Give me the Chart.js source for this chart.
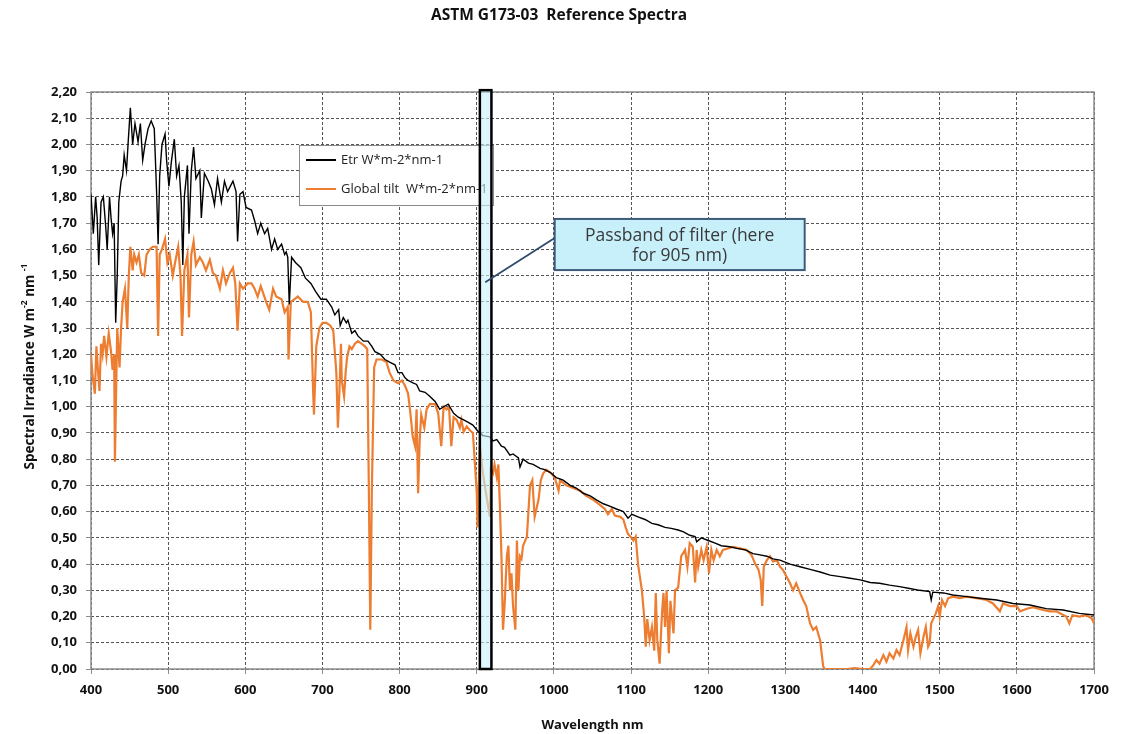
<!DOCTYPE html>
<html>
<head>
<meta charset="utf-8">
<title>ASTM G173-03 Reference Spectra</title>
<script src="https://cdn.jsdelivr.net/npm/chart.js@4.4.1/dist/chart.umd.min.js"></script>
<style>
  html, body { margin: 0; padding: 0; background: #fff; }
  #chart { display: block; }
</style>
</head>
<body>
<canvas id="chart" width="1128" height="734"></canvas>
<script>
'use strict';

const chartTitle = 'ASTM G173-03  Reference Spectra';
const xTitle = 'Wavelength nm';
const seriesLabels = ['Etr W*m-2*nm-1', 'Global tilt  W*m-2*nm-1'];
const calloutLines = ['Passband of filter (here', 'for 905 nm)'];

// extraterrestrial spectrum
const etrNm = [
  400, 403, 406, 408, 410, 413, 416, 419, 421, 424,
  426, 428, 430, 432, 434, 436, 439, 441, 443, 446,
  448, 451, 454, 457, 461, 464, 467, 470, 474, 478,
  482, 485, 487, 489, 492, 496, 498, 501, 504, 508,
  511, 514, 517, 519, 521, 525, 527, 530, 533, 536,
  541, 543, 547, 552, 556, 560, 564, 569, 573, 577,
  584, 588, 590, 593, 597, 601, 608, 612, 616, 620,
  625, 629, 634, 638, 642, 647, 651, 653, 655, 657,
  660, 665, 672, 678, 685, 691, 698, 705, 712, 716,
  721, 723, 727, 731, 733, 738, 742, 746, 753, 759,
  764, 768, 775, 781, 787, 794, 798, 803, 807, 811,
  818, 822, 826, 833, 839, 846, 852, 857, 863, 870,
  876, 883, 889, 895, 902, 908, 917, 921, 926, 932,
  936, 943, 947, 954, 956, 960, 967, 973, 982, 988,
  995, 1003, 1012, 1021, 1029, 1038, 1047, 1055, 1064, 1073,
  1081, 1090, 1096, 1101, 1109, 1118, 1127, 1135, 1144, 1152,
  1161, 1168, 1176, 1183, 1185, 1191, 1200, 1209, 1217, 1228,
  1237, 1248, 1258, 1267, 1276, 1284, 1293, 1306, 1319, 1332,
  1345, 1358, 1371, 1384, 1397, 1410, 1422, 1435, 1448, 1461,
  1474, 1487, 1489, 1491, 1505, 1517, 1535, 1552, 1574, 1595,
  1617, 1638, 1660, 1681, 1700
];
const etrVal = [
  1.81, 1.66, 1.80, 1.72, 1.54, 1.78, 1.80, 1.69, 1.60, 1.80,
  1.72, 1.66, 1.70, 1.32, 1.50, 1.78, 1.86, 1.88, 1.96, 1.90,
  2.00, 2.14, 2.00, 2.08, 2.01, 2.08, 1.94, 2.00, 2.06, 2.09,
  2.06, 1.82, 1.62, 1.88, 2.00, 2.04, 1.94, 1.84, 1.93, 2.02,
  1.88, 1.92, 1.78, 1.54, 1.80, 1.92, 1.66, 1.90, 1.99, 1.87,
  1.90, 1.72, 1.89, 1.86, 1.83, 1.77, 1.87, 1.78, 1.86, 1.82,
  1.86, 1.82, 1.63, 1.81, 1.82, 1.76, 1.75, 1.71, 1.66, 1.70,
  1.66, 1.68, 1.60, 1.64, 1.60, 1.62, 1.58, 1.59, 1.57, 1.39,
  1.57, 1.55, 1.53, 1.49, 1.47, 1.44, 1.41, 1.41, 1.38, 1.35,
  1.37, 1.31, 1.34, 1.32, 1.33, 1.28, 1.29, 1.27, 1.25, 1.25,
  1.23, 1.21, 1.20, 1.18, 1.17, 1.16, 1.13, 1.13, 1.11, 1.10,
  1.09, 1.085, 1.06, 1.055, 1.04, 1.02, 0.99, 1.00, 1.01, 0.975,
  0.96, 0.95, 0.94, 0.93, 0.905, 0.89, 0.885, 0.87, 0.875, 0.85,
  0.845, 0.815, 0.82, 0.805, 0.77, 0.80, 0.785, 0.78, 0.765, 0.76,
  0.75, 0.73, 0.72, 0.70, 0.69, 0.67, 0.66, 0.645, 0.63, 0.62,
  0.61, 0.60, 0.575, 0.59, 0.58, 0.57, 0.555, 0.55, 0.54, 0.536,
  0.53, 0.523, 0.51, 0.505, 0.485, 0.50, 0.49, 0.48, 0.47, 0.466,
  0.46, 0.454, 0.44, 0.435, 0.43, 0.42, 0.415, 0.40, 0.39, 0.38,
  0.37, 0.358, 0.352, 0.346, 0.34, 0.33, 0.327, 0.32, 0.314, 0.307,
  0.30, 0.295, 0.263, 0.293, 0.29, 0.282, 0.276, 0.27, 0.263, 0.25,
  0.244, 0.23, 0.225, 0.212, 0.206
];

// global tilt spectrum
const globalNm = [
  400, 402, 405, 407, 409, 411, 413, 415, 417, 420,
  423, 426, 428, 430, 431, 434, 437, 439, 441, 444,
  447, 449, 451, 454, 456, 459, 462, 465, 469, 472,
  476, 480, 485, 487, 489, 492, 496, 499, 502, 506,
  509, 513, 516, 518, 521, 525, 527, 530, 533, 536,
  541, 545, 549, 554, 558, 562, 567, 571, 575, 580,
  584, 587, 590, 593, 597, 603, 608, 612, 616, 620,
  627, 631, 636, 640, 647, 651, 655, 656, 659, 664,
  668, 675, 681, 685, 688, 689, 692, 696, 700, 705,
  710, 714, 718, 720, 722, 724, 725, 728, 730, 732,
  735, 738, 742, 746, 751, 755, 758, 760, 762, 764,
  767, 770, 777, 783, 787, 792, 798, 803, 807, 811,
  814, 817, 820, 822, 824, 826, 828, 832, 835, 839,
  846, 850, 854, 857, 861, 864, 867, 870, 874, 878,
  880, 883, 887, 891, 895, 897, 900, 901, 904, 908,
  912, 917, 918, 921, 923, 926, 928, 930, 932, 934,
  936, 939, 941, 943, 945, 947, 950, 952, 954, 956,
  958, 960, 965, 969, 972, 975, 980, 983, 986, 990,
  997, 1001, 1006, 1008, 1016, 1025, 1034, 1042, 1051, 1060,
  1066, 1070, 1075, 1079, 1086, 1090, 1093, 1096, 1099, 1103,
  1106, 1109, 1114, 1117, 1119, 1121, 1124, 1127, 1130, 1132,
  1134, 1137, 1140, 1142, 1144, 1146, 1149, 1151, 1155, 1157,
  1161, 1165, 1170, 1173, 1176, 1180, 1183, 1185, 1187, 1191,
  1194, 1198, 1201, 1204, 1207, 1211, 1215, 1219, 1226, 1232,
  1241, 1250, 1256, 1261, 1265, 1268, 1270, 1272, 1276, 1280,
  1284, 1289, 1293, 1297, 1302, 1306, 1310, 1314, 1319, 1323,
  1327, 1332, 1336, 1340, 1345, 1349, 1351, 1380, 1390, 1400,
  1410, 1414, 1418, 1422, 1427, 1431, 1435, 1440, 1444, 1448,
  1453, 1457, 1459, 1462, 1466, 1469, 1472, 1475, 1479, 1482,
  1485, 1487, 1489, 1492, 1495, 1498, 1500, 1503, 1507, 1511,
  1517, 1526, 1535, 1548, 1561, 1569, 1578, 1582, 1591, 1600,
  1604, 1613, 1621, 1634, 1643, 1651, 1664, 1668, 1672, 1681,
  1690, 1697, 1700
];
const globalVal = [
  1.20, 1.12, 1.05, 1.23, 1.14, 1.06, 1.24, 1.20, 1.27, 1.19,
  1.28, 1.21, 1.14, 1.20, 0.79, 1.30, 1.15, 1.30, 1.40, 1.45,
  1.30, 1.50, 1.61, 1.52, 1.58, 1.55, 1.58, 1.51, 1.50, 1.58,
  1.60, 1.61, 1.61, 1.27, 1.58, 1.60, 1.64, 1.55, 1.58, 1.50,
  1.55, 1.61, 1.50, 1.27, 1.52, 1.58, 1.34, 1.58, 1.63, 1.54,
  1.57, 1.55, 1.52, 1.56, 1.51, 1.50, 1.45, 1.52, 1.47, 1.51,
  1.53, 1.47, 1.29, 1.47, 1.45, 1.47, 1.47, 1.45, 1.42, 1.46,
  1.40, 1.37, 1.45, 1.42, 1.41, 1.36, 1.38, 1.18, 1.40, 1.41,
  1.42, 1.40, 1.40, 1.36, 1.05, 0.97, 1.23, 1.30, 1.32, 1.32,
  1.31, 1.29, 1.13, 0.92, 1.06, 1.24, 1.10, 1.04, 1.13, 1.19,
  1.23, 1.22, 1.24, 1.25, 1.24, 1.23, 1.22, 0.72, 0.15, 0.68,
  1.15, 1.18, 1.18, 1.17, 1.13, 1.10, 1.09, 1.10, 1.08, 1.05,
  0.975, 0.885, 0.85, 0.99, 0.67, 0.87, 0.97, 0.92, 0.99, 1.01,
  1.01, 0.975, 0.85, 1.00, 0.99, 1.00, 0.85, 0.96, 0.95, 0.92,
  0.95, 0.905, 0.925, 0.91, 0.90, 0.81, 0.67, 0.54, 0.85, 0.745,
  0.67, 0.58, 0.76, 0.745, 0.78, 0.73, 0.78, 0.62, 0.43, 0.15,
  0.24, 0.43, 0.47, 0.30, 0.365, 0.24, 0.15, 0.49, 0.30, 0.43,
  0.42, 0.47, 0.505, 0.70, 0.72, 0.58, 0.645, 0.72, 0.745, 0.76,
  0.745, 0.73, 0.68, 0.72, 0.70, 0.69, 0.68, 0.66, 0.645, 0.625,
  0.61, 0.59, 0.61, 0.585, 0.58, 0.57, 0.54, 0.515, 0.505, 0.49,
  0.505, 0.40, 0.30, 0.20, 0.085, 0.19, 0.11, 0.16, 0.07, 0.29,
  0.11, 0.02, 0.21, 0.29, 0.16, 0.30, 0.06, 0.26, 0.136, 0.30,
  0.31, 0.43, 0.454, 0.39, 0.48, 0.466, 0.33, 0.454, 0.39, 0.454,
  0.415, 0.466, 0.365, 0.454, 0.415, 0.454, 0.43, 0.454, 0.46, 0.466,
  0.46, 0.454, 0.435, 0.40, 0.38, 0.34, 0.24, 0.39, 0.415, 0.43,
  0.41, 0.415, 0.39, 0.377, 0.35, 0.327, 0.30, 0.327, 0.29, 0.263,
  0.24, 0.174, 0.149, 0.16, 0.11, 0.01, 0.0, 0.0, 0.003, 0.0,
  0.0, 0.015, 0.034, 0.02, 0.053, 0.028, 0.06, 0.04, 0.072, 0.053,
  0.11, 0.16, 0.072, 0.136, 0.085, 0.123, 0.149, 0.06, 0.123, 0.16,
  0.085, 0.098, 0.174, 0.193, 0.212, 0.24, 0.20, 0.263, 0.24, 0.27,
  0.276, 0.27, 0.276, 0.27, 0.263, 0.25, 0.22, 0.25, 0.24, 0.24,
  0.22, 0.23, 0.236, 0.225, 0.22, 0.22, 0.20, 0.174, 0.205, 0.20,
  0.205, 0.193, 0.174
];

// filter passband (nm) and the callout placed in data units
const passbandNm = [904, 919];
const passbandTop = 2.207;
const callout = { x0: 1001, x1: 1325, yTop: 1.716, yBottom: 1.521, anchorNm: 911, anchorY: 1.475, joinY: 1.643 };

function toPoints(xs, ys){
  return xs.map((x, i) => ({ x: x, y: ys[i] }));
}

function fmtComma(v){
  return Number(v).toFixed(2).replace('.', ',');
}

function fmtPlain(v){
  return String(v);
}

function drawPlotFrame(chart){
  const { ctx, chartArea } = chart;
  ctx.save();
  ctx.strokeStyle = '#8c8c8c';
  ctx.lineWidth = 1.5;
  ctx.strokeRect(chartArea.left, chartArea.top, chartArea.right - chartArea.left, chartArea.bottom - chartArea.top);
  ctx.restore();
}

function drawLegendBox(chart){
  const { ctx, chartArea } = chart;
  const left = chartArea.left + 208, top = chartArea.top + 53;
  const w = 194, h = 60;
  ctx.save();
  ctx.fillStyle = '#ffffff';
  ctx.fillRect(left, top, w, h);
  ctx.strokeStyle = '#8a8a8a';
  ctx.lineWidth = 1;
  ctx.strokeRect(left + 0.5, top + 0.5, w, h);
  ctx.font = '13px "Open Sans"';
  ctx.textBaseline = 'middle';
  chart.data.datasets.forEach((ds, i) => {
    const y = top + 15 + i * 29;
    ctx.strokeStyle = ds.borderColor;
    ctx.lineWidth = 2;
    ctx.beginPath();
    ctx.moveTo(left + 7, y);
    ctx.lineTo(left + 37, y);
    ctx.stroke();
    ctx.fillStyle = '#222';
    ctx.fillText(ds.label, left + 42, y);
  });
  ctx.restore();
}

function drawPassband(chart){
  const { ctx, scales } = chart;
  const x0 = scales.x.getPixelForValue(passbandNm[0]);
  const x1 = scales.x.getPixelForValue(passbandNm[1]);
  const y0 = scales.y.getPixelForValue(passbandTop);
  const y1 = scales.y.getPixelForValue(0);
  ctx.save();
  ctx.fillStyle = 'rgba(200, 241, 252, 0.6)';
  ctx.fillRect(x0, y0, x1 - x0, y1 - y0);
  ctx.strokeStyle = '#000';
  ctx.lineWidth = 2.5;
  ctx.strokeRect(x0, y0, x1 - x0, y1 - y0);
  ctx.restore();
}

function drawCallout(chart){
  const { ctx, scales } = chart;
  const left = scales.x.getPixelForValue(callout.x0);
  const right = scales.x.getPixelForValue(callout.x1);
  const top = scales.y.getPixelForValue(callout.yTop);
  const bottom = scales.y.getPixelForValue(callout.yBottom);
  ctx.save();
  ctx.strokeStyle = '#2f4b6b';
  ctx.lineWidth = 1.8;
  ctx.beginPath();
  ctx.moveTo(scales.x.getPixelForValue(callout.anchorNm), scales.y.getPixelForValue(callout.anchorY));
  ctx.lineTo(left, scales.y.getPixelForValue(callout.joinY));
  ctx.stroke();
  ctx.fillStyle = '#c8f0fb';
  ctx.fillRect(left, top, right - left, bottom - top);
  ctx.strokeStyle = '#3d5a78';
  ctx.lineWidth = 2;
  ctx.strokeRect(left, top, right - left, bottom - top);
  ctx.fillStyle = '#3a3a3a';
  ctx.font = '17.5px "Open Sans"';
  ctx.textAlign = 'center';
  ctx.textBaseline = 'middle';
  const cx = (left + right) / 2;
  ctx.fillText(calloutLines[0], cx, top + 17);
  ctx.fillText(calloutLines[1], cx, top + 37);
  ctx.restore();
}

function drawTitles(chart){
  const { ctx, chartArea } = chart;
  ctx.save();
  ctx.fillStyle = '#111';
  ctx.font = 'bold 15.5px "Open Sans"';
  ctx.textAlign = 'center';
  ctx.textBaseline = 'middle';
  ctx.fillText(chartTitle, 559, 16);

  // y title with superscripts
  const parts = [
    { t: 'Spectral Irradiance W m', sup: false },
    { t: '-2', sup: true },
    { t: ' nm ', sup: false },
    { t: '-1', sup: true }
  ];
  const bigFont = 'bold 13.5px "Open Sans"', supFont = 'bold 8.5px "Open Sans"';
  let total = 0;
  parts.forEach(p => { ctx.font = p.sup ? supFont : bigFont; p.w = ctx.measureText(p.t).width; total += p.w; });
  ctx.translate(30, (chartArea.top + chartArea.bottom) / 2 - 14);
  ctx.rotate(-Math.PI / 2);
  ctx.textAlign = 'left';
  let x = -total / 2;
  parts.forEach(p => {
    ctx.font = p.sup ? supFont : bigFont;
    ctx.fillText(p.t, x, p.sup ? -5 : 0);
    x += p.w;
  });
  ctx.restore();
}

const overlayPlugin = {
  id: 'overlay',
  beforeDatasetsDraw(chart){ drawPlotFrame(chart); },
  afterDatasetsDraw(chart){
    drawLegendBox(chart);
    drawPassband(chart);
    drawCallout(chart);
  },
  afterDraw(chart){ drawTitles(chart); }
};

const config = {
  type: 'line',
  data: {
    datasets: [{
      label: seriesLabels[0],
      data: toPoints(etrNm, etrVal),
      borderColor: '#000000',
      borderWidth: 1.4,
      pointRadius: 0,
      tension: 0
    }, {
      label: seriesLabels[1],
      data: toPoints(globalNm, globalVal),
      borderColor: '#ed7d31',
      borderWidth: 2.2,
      pointRadius: 0,
      tension: 0
    }]
  },
  options: {
    responsive: false,
    animation: false,
    events: [],
    layout: { padding: { top: 92, right: 34, bottom: 0, left: 0 } },
    plugins: { legend: { display: false }, title: { display: false }, tooltip: { enabled: false } },
    scales: {
      x: {
        type: 'linear',
        min: 400, max: 1700,
        afterFit(scale){ scale.height = 65; },
        ticks: { stepSize: 100, padding: 8, color: '#111', callback: fmtPlain, font: { family: 'Open Sans', size: 13, weight: 'bold' }, maxRotation: 0 },
        grid: { color: '#555', lineWidth: 1, tickLength: 5, tickColor: '#8c8c8c', tickBorderDash: [1, 0] },
        border: { display: false, dash: [3, 2] },
        title: { display: true, text: xTitle, color: '#111', font: { family: 'Open Sans', size: 13, weight: 'bold' }, padding: { top: 0, bottom: 1 } }
      },
      y: {
        min: 0, max: 2.2,
        afterFit(scale){ scale.width = 91; },
        ticks: { stepSize: 0.1, padding: 9, color: '#111', callback: fmtComma, font: { family: 'Open Sans', size: 13, weight: 'bold' } },
        grid: { color: '#555', lineWidth: 1, tickLength: 5, tickColor: '#8c8c8c', tickBorderDash: [1, 0] },
        border: { display: false, dash: [3, 2] }
      }
    }
  },
  plugins: [overlayPlugin]
};

const spectraChart = new Chart(document.getElementById('chart'), config);
</script>
</body>
</html>
